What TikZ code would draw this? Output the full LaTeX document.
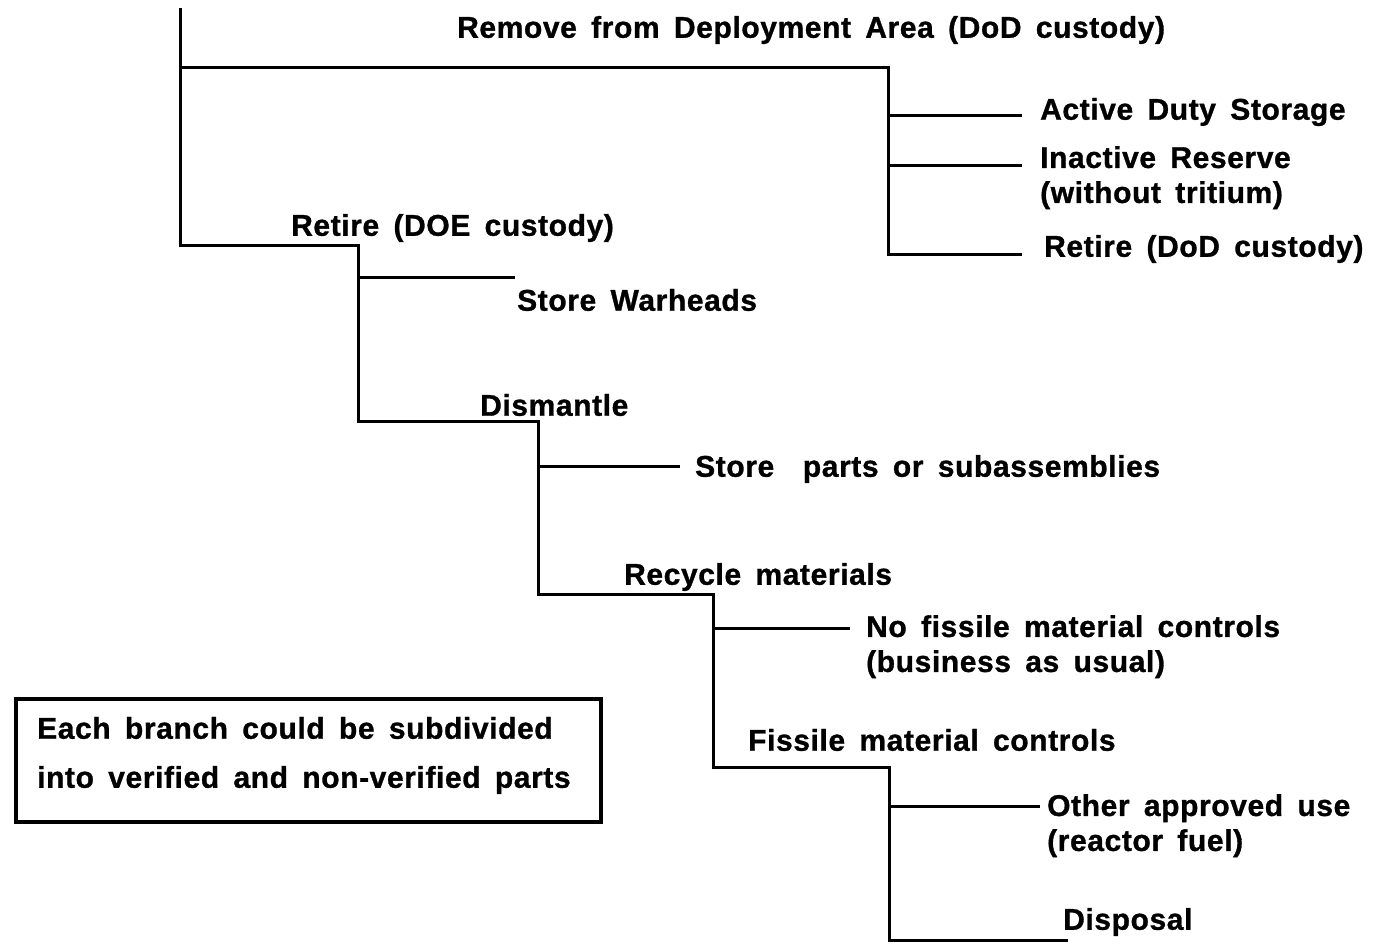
\documentclass[tikz,border=0pt]{standalone}
\usepackage{fontspec}
\setmainfont{Liberation Sans}[WordSpace=1.6,LetterSpace=2,BoldFeatures={FakeBold=1}]
\begin{document}
\begin{tikzpicture}[x=1pt,y=-1pt,
  tl/.style={line width=3pt},
  lbl/.style={anchor=west,inner sep=0pt,font=\fontsize{30}{35}\selectfont\bfseries},
  lbl2/.style={anchor=north west,inner sep=0pt,align=left,font=\fontsize{30}{35}\selectfont\bfseries}]
\useasboundingbox (0,0) rectangle (1377,944);
% junction coordinates
\coordinate (top) at (180,8);
\coordinate (r1) at (888,68);
\coordinate (c1) at (180,68);
\coordinate (c2) at (180,246);
\coordinate (r2) at (358,246);
\coordinate (r3) at (358,421);
\coordinate (d1) at (538,421);
\coordinate (d2) at (538,594);
\coordinate (m1) at (713,594);
\coordinate (m2) at (713,767);
\coordinate (f1) at (889,767);
\coordinate (f2) at (889,940);
\coordinate (e1) at (1022,116);
\coordinate (e2) at (1022,166);
\coordinate (e3) at (1022,255);
\coordinate (sw) at (515,278);
\coordinate (sp) at (680,466);
\coordinate (nf) at (850,628);
\coordinate (oa) at (1040,806);
\coordinate (dp) at (1068,940);
% labels
\node[lbl] (remove) at (457,30) {Remove from Deployment Area (DoD custody)};
\node[lbl] (ads) at (1040,112) {Active Duty Storage};
\node[lbl2] (ir) at (1040,146) {Inactive Reserve\\(without tritium)};
\node[lbl] (rdod) at (1044,249) {Retire (DoD custody)};
\node[lbl] (rdoe) at (291,228) {Retire (DOE custody)};
\node[lbl] (sw2) at (517,300) {Store Warheads};
\node[lbl] (dis) at (480,405) {Dismantle};
\node[lbl] (spl) at (695,469) {Store \ parts or subassemblies};
\node[lbl] (rec) at (624,577) {Recycle materials};
\node[lbl2] (nfl) at (866,615) {No fissile material controls\\(business as usual)};
\node[lbl] (fmc) at (748,740) {Fissile material controls};
\node[lbl2] (oal) at (1047,794) {Other approved use\\(reactor fuel)};
\node[lbl] (disp) at (1063,922) {Disposal};
% tree lines
\draw[tl] (top) -- (c2) -- (r2) -- (r3) -- (d1) -- (d2) -- (m1) -- (m2) -- (f1) -- (f2) -- (dp);
\draw[tl] (c1) -- (r1) |- (e3);
\draw[tl] (r1 |- e1) -- (e1);
\draw[tl] (r1 |- e2) -- (e2);
\draw[tl] (r2 |- sw) -- (sw);
\draw[tl] (d1 |- sp) -- (sp);
\draw[tl] (m1 |- nf) -- (nf);
\draw[tl] (f1 |- oa) -- (oa);
% note box
\node[draw,line width=3.5pt,minimum width=585pt,minimum height=123pt,anchor=north west,inner sep=0pt] (box) at (14,697) {};
\node[lbl] (n1) at (37,728) {Each branch could be subdivided};
\node[lbl] (n2) at (37,780) {into verified and non-verified parts};
\end{tikzpicture}
\end{document}
